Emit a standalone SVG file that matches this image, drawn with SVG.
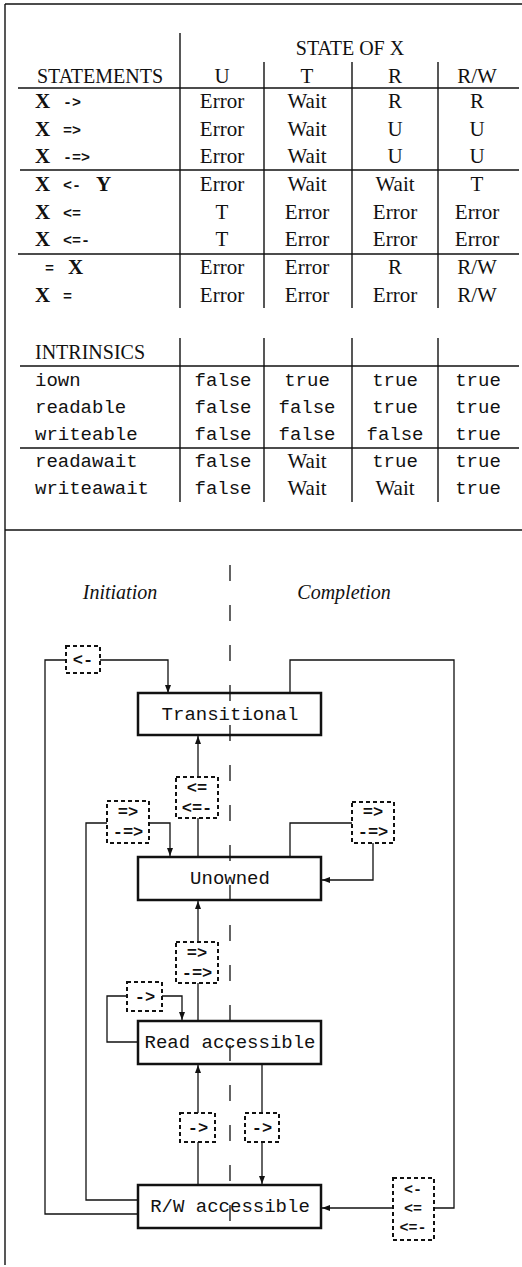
<svg xmlns="http://www.w3.org/2000/svg" width="522" height="1267" viewBox="0 0 522 1267">
<style>
.rule{stroke:#111;stroke-width:1.4;fill:none}
.sr{font-family:"Liberation Serif",serif;font-size:20px;fill:#111}
.val{font-family:"Liberation Serif",serif;font-size:21px;fill:#111;text-anchor:middle}
.bx{font-family:"Liberation Serif",serif;font-size:21px;font-weight:bold;fill:#111}
.op{font-family:"Liberation Mono",monospace;font-size:15px;font-weight:bold;fill:#111}
.tt{font-family:"Liberation Mono",monospace;font-size:19px;fill:#111}
.ttc{font-family:"Liberation Mono",monospace;font-size:19px;fill:#111;text-anchor:middle}
.it{font-family:"Liberation Serif",serif;font-size:20px;font-style:italic;fill:#111;text-anchor:middle}
.node{fill:#fff;stroke:#111;stroke-width:2.5}
.dbox{fill:#fff;stroke:#111;stroke-width:2;stroke-dasharray:4 3}
.lbl{font-family:"Liberation Mono",monospace;font-size:17px;font-weight:bold;fill:#111;text-anchor:middle}
.lbs{font-family:"Liberation Mono",monospace;font-size:15px;font-weight:bold;fill:#111;text-anchor:middle}
.conn{stroke:#111;stroke-width:1.3;fill:none}
.axis{stroke:#111;stroke-width:1.3;stroke-dasharray:16 24;fill:none}
</style>
<defs>
<marker id="ah" markerUnits="userSpaceOnUse" markerWidth="8" markerHeight="6" refX="8" refY="3" orient="auto">
<path d="M0,0 L8,3 L0,6 z" fill="#111"/>
</marker>
</defs>
<rect width="522" height="1267" fill="#fff"/>

<g id="table">
<line class="rule" x1="5" y1="4" x2="522" y2="4"/>
<line class="rule" x1="5" y1="4" x2="5" y2="1265"/>
<line class="rule" x1="5" y1="530" x2="522" y2="530"/>
<line class="rule" x1="180" y1="33" x2="180" y2="308"/>
<line class="rule" x1="264" y1="62" x2="264" y2="308"/>
<line class="rule" x1="352" y1="62" x2="352" y2="308"/>
<line class="rule" x1="438" y1="62" x2="438" y2="308"/>
<line class="rule" x1="180" y1="338" x2="180" y2="502"/>
<line class="rule" x1="264" y1="338" x2="264" y2="502"/>
<line class="rule" x1="352" y1="338" x2="352" y2="502"/>
<line class="rule" x1="438" y1="338" x2="438" y2="502"/>
<line class="rule" x1="18" y1="88" x2="519" y2="88"/>
<line class="rule" x1="20" y1="170" x2="519" y2="170"/>
<line class="rule" x1="18" y1="254" x2="519" y2="254"/>
<line class="rule" x1="20" y1="366" x2="519" y2="366"/>
<line class="rule" x1="20" y1="448" x2="519" y2="448"/>

<text class="sr" x="350" y="55" text-anchor="middle">STATE OF X</text>
<text class="sr" x="100" y="83" text-anchor="middle">STATEMENTS</text>
<text class="val" x="222" y="83">U</text>
<text class="val" x="307" y="83">T</text>
<text class="val" x="395" y="83">R</text>
<text class="val" x="477" y="83">R/W</text>

<text class="bx" x="35" y="108">X</text><text class="op" x="63" y="107">-&gt;</text>
<text class="bx" x="35" y="136">X</text><text class="op" x="63" y="135">=&gt;</text>
<text class="bx" x="35" y="163">X</text><text class="op" x="63" y="162">-=&gt;</text>
<text class="bx" x="35" y="191">X</text><text class="op" x="63" y="190">&lt;-</text><text class="bx" x="96" y="191">Y</text>
<text class="bx" x="35" y="219">X</text><text class="op" x="63" y="218">&lt;=</text>
<text class="bx" x="35" y="246">X</text><text class="op" x="63" y="245">&lt;=-</text>
<text class="op" x="45" y="273">=</text><text class="bx" x="68" y="274">X</text>
<text class="bx" x="35" y="302">X</text><text class="op" x="63" y="301">=</text>

<text class="val" x="222" y="108">Error</text><text class="val" x="307" y="108">Wait</text><text class="val" x="395" y="108">R</text><text class="val" x="477" y="108">R</text>
<text class="val" x="222" y="136">Error</text><text class="val" x="307" y="136">Wait</text><text class="val" x="395" y="136">U</text><text class="val" x="477" y="136">U</text>
<text class="val" x="222" y="163">Error</text><text class="val" x="307" y="163">Wait</text><text class="val" x="395" y="163">U</text><text class="val" x="477" y="163">U</text>
<text class="val" x="222" y="191">Error</text><text class="val" x="307" y="191">Wait</text><text class="val" x="395" y="191">Wait</text><text class="val" x="477" y="191">T</text>
<text class="val" x="222" y="219">T</text><text class="val" x="307" y="219">Error</text><text class="val" x="395" y="219">Error</text><text class="val" x="477" y="219">Error</text>
<text class="val" x="222" y="246">T</text><text class="val" x="307" y="246">Error</text><text class="val" x="395" y="246">Error</text><text class="val" x="477" y="246">Error</text>
<text class="val" x="222" y="274">Error</text><text class="val" x="307" y="274">Error</text><text class="val" x="395" y="274">R</text><text class="val" x="477" y="274">R/W</text>
<text class="val" x="222" y="302">Error</text><text class="val" x="307" y="302">Error</text><text class="val" x="395" y="302">Error</text><text class="val" x="477" y="302">R/W</text>

<text class="sr" x="35" y="359">INTRINSICS</text>
<text class="tt" x="35" y="386">iown</text>
<text class="tt" x="35" y="413">readable</text>
<text class="tt" x="35" y="440">writeable</text>
<text class="tt" x="35" y="467">readawait</text>
<text class="tt" x="35" y="494">writeawait</text>

<text class="ttc" x="223" y="386">false</text><text class="ttc" x="307" y="386">true</text><text class="ttc" x="395" y="386">true</text><text class="ttc" x="478" y="386">true</text>
<text class="ttc" x="223" y="413">false</text><text class="ttc" x="307" y="413">false</text><text class="ttc" x="395" y="413">true</text><text class="ttc" x="478" y="413">true</text>
<text class="ttc" x="223" y="440">false</text><text class="ttc" x="307" y="440">false</text><text class="ttc" x="395" y="440">false</text><text class="ttc" x="478" y="440">true</text>
<text class="ttc" x="223" y="467">false</text><text class="val" x="307" y="468">Wait</text><text class="ttc" x="395" y="467">true</text><text class="ttc" x="478" y="467">true</text>
<text class="ttc" x="223" y="494">false</text><text class="val" x="307" y="495">Wait</text><text class="val" x="395" y="495">Wait</text><text class="ttc" x="478" y="494">true</text>
</g>

<g id="headings">
<text class="it" x="120" y="599">Initiation</text>
<text class="it" x="344" y="599">Completion</text>
</g>

<g id="connectors">
<path class="conn" d="M66,660 H45 V1214 H138"/>
<path class="conn" d="M100,660 H168 V693" marker-end="url(#ah)"/>
<path class="conn" d="M290,693 V660 H454 V1208 H434"/>
<path class="conn" d="M393,1208 H322" marker-end="url(#ah)"/>
<path class="conn" d="M198,857 V818"/>
<path class="conn" d="M198,777 V736" marker-end="url(#ah)"/>
<path class="conn" d="M107,823 H86 V1200 H138"/>
<path class="conn" d="M149,823 H170 V856" marker-end="url(#ah)"/>
<path class="conn" d="M290,857 V823 H352"/>
<path class="conn" d="M373,843 V880 H322" marker-end="url(#ah)"/>
<path class="conn" d="M198,942 V901" marker-end="url(#ah)"/>
<path class="conn" d="M198,1021 V983"/>
<path class="conn" d="M138,1042 H107 V996 H127"/>
<path class="conn" d="M162,996 H182 V1020" marker-end="url(#ah)"/>
<path class="conn" d="M198,1185 V1142"/>
<path class="conn" d="M198,1113 V1065" marker-end="url(#ah)"/>
<path class="conn" d="M262,1064 V1113"/>
<path class="conn" d="M262,1142 V1184" marker-end="url(#ah)"/>
</g>

<g id="n-transitional">
<rect class="node" x="138" y="693" width="183" height="42"/>
<text class="ttc" x="230" y="720">Transitional</text>
</g>
<g id="n-unowned">
<rect class="node" x="138" y="857" width="183" height="43"/>
<text class="ttc" x="230" y="884">Unowned</text>
</g>
<g id="n-read">
<rect class="node" x="138" y="1021" width="183" height="43"/>
<text class="ttc" x="230" y="1048">Read accessible</text>
</g>
<g id="n-rw">
<rect class="node" x="138" y="1185" width="183" height="43"/>
<text class="ttc" x="230" y="1212">R/W accessible</text>
</g>

<g id="d-init-assign">
<rect class="dbox" x="66" y="646" width="34" height="27"/>
<text class="lbl" x="83" y="665">&lt;-</text>
</g>
<g id="d-to-trans">
<rect class="dbox" x="176" y="777" width="42" height="41"/>
<text class="lbl" x="197" y="793">&lt;=</text>
<text class="lbl" x="197" y="813">&lt;=-</text>
</g>
<g id="d-left-send">
<rect class="dbox" x="107" y="801" width="42" height="42"/>
<text class="lbl" x="128" y="817">=&gt;</text>
<text class="lbl" x="128" y="837">-=&gt;</text>
</g>
<g id="d-right-send">
<rect class="dbox" x="352" y="802" width="42" height="41"/>
<text class="lbl" x="373" y="817">=&gt;</text>
<text class="lbl" x="373" y="837">-=&gt;</text>
</g>
<g id="d-mid-send">
<rect class="dbox" x="176" y="942" width="42" height="41"/>
<text class="lbl" x="197" y="958">=&gt;</text>
<text class="lbl" x="197" y="978">-=&gt;</text>
</g>
<g id="d-self-read">
<rect class="dbox" x="127" y="982" width="35" height="29"/>
<text class="lbl" x="145" y="1002">-&gt;</text>
</g>
<g id="d-rw-read">
<rect class="dbox" x="180" y="1113" width="35" height="29"/>
<text class="lbl" x="198" y="1133">-&gt;</text>
</g>
<g id="d-read-rw">
<rect class="dbox" x="245" y="1113" width="34" height="29"/>
<text class="lbl" x="262" y="1133">-&gt;</text>
</g>
<g id="d-complete">
<rect class="dbox" x="393" y="1178" width="41" height="62"/>
<text class="lbs" x="413" y="1194">&lt;-</text>
<text class="lbs" x="413" y="1213">&lt;=</text>
<text class="lbs" x="413" y="1232">&lt;=-</text>
</g>

<g id="axis">
<line class="axis" x1="230" y1="565" x2="230" y2="1245"/>
</g>
</svg>
